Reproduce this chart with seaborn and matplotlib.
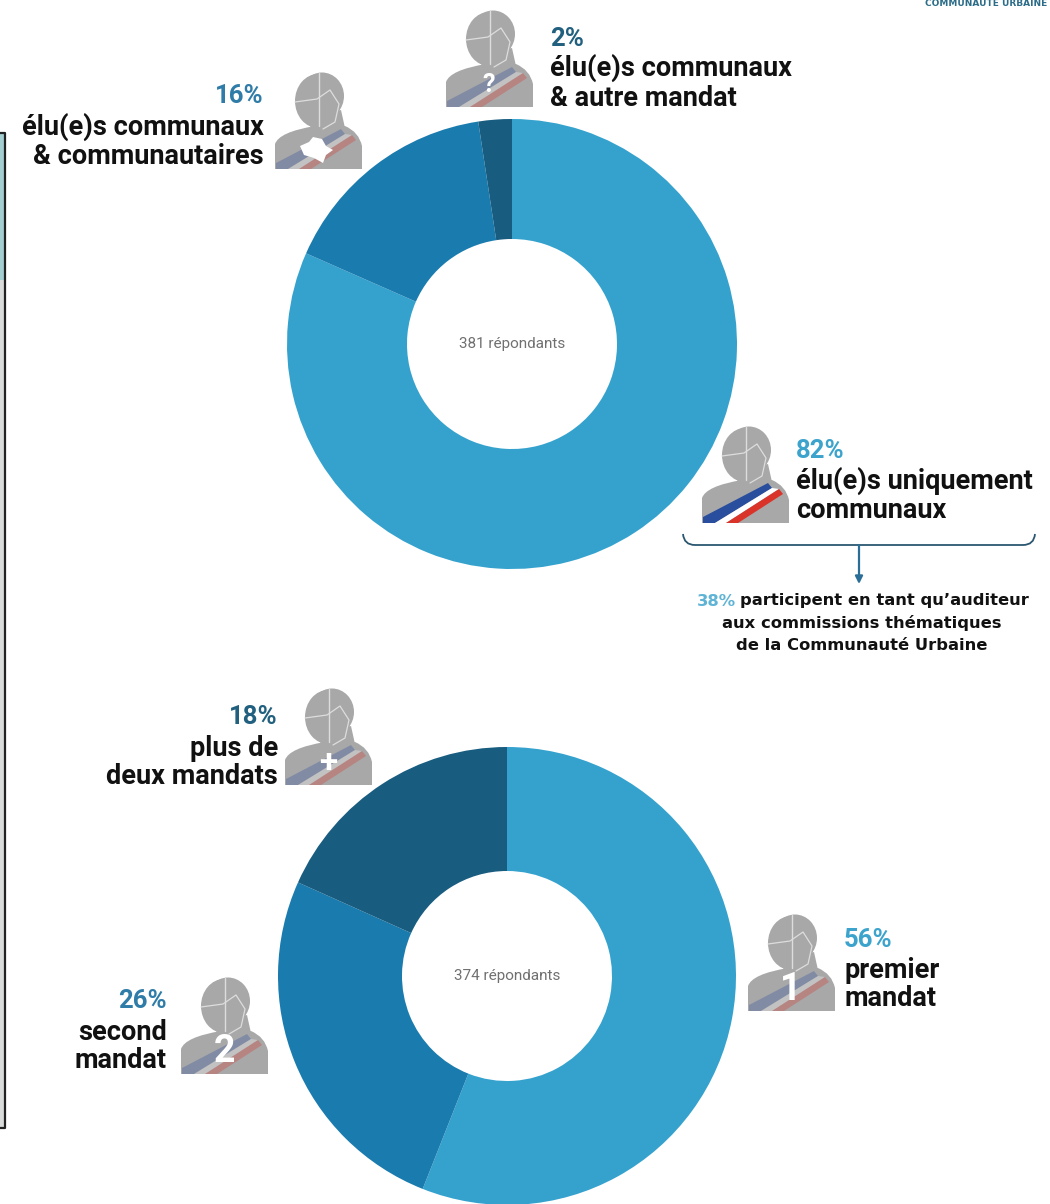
import seaborn as sns
import matplotlib.pyplot as plt
from matplotlib.patches import Ellipse, Polygon, PathPatch, Rectangle
from matplotlib.path import Path

# donnees
parts_mandats = [81.6, 16.0, 2.4]
labels_mandats = ['82%', '16%', '2%']
total_mandats = '381 répondants'

parts_nombre = [56, 25.7, 18.3]
labels_nombre = ['56%', '26%', '18%']
total_nombre = '374 répondants'

couleurs = sns.color_palette(['#35A2CE', '#1A7BAE', '#185C80'])
BLEU_CLAIR = '#3CA3CC'
BLEU_MOYEN = '#2F7CA8'
BLEU_FONCE = '#22607F'
NOIR = '#111111'
GRIS = '#A8A8A8'

sns.set_theme(style='white')
plt.rcParams['font.family'] = ['Roboto', 'DejaVu Sans']

W, H = 1050, 1204
fig = plt.figure(figsize=(W / 100, H / 100), dpi=100, facecolor='white')

# calque en pixels pour les textes et pictos
bg = fig.add_axes([0, 0, 1, 1])
bg.set_xlim(0, W)
bg.set_ylim(H, 0)
bg.axis('off')


def donut(valeurs, cx, cy, r_ext, r_int, total):
    ax = fig.add_axes([(cx - r_ext) / W, 1 - (cy + r_ext) / H, 2 * r_ext / W, 2 * r_ext / H])
    ax.pie(valeurs, colors=couleurs, startangle=90, counterclock=False, radius=1,
           wedgeprops={'width': 1 - r_int / r_ext, 'linewidth': 0})
    ax.set_xlim(-1, 1)
    ax.set_ylim(-1, 1)
    ax.text(0, 0, total, ha='center', va='center', fontsize=11, color='#707070')


def picto(x, y, symbole=None, alpha=0.3, taille=27):
    # silhouette d'elu : x, y = coin haut gauche, 87 x 97 px
    bg.add_patch(Ellipse((x + 43, y + 29), 46, 54, color=GRIS, lw=0, zorder=3))
    bg.add_patch(Ellipse((x + 47, y + 24), 44, 47, color=GRIS, lw=0, zorder=3))
    bg.add_patch(Polygon([(x + 30, y + 48), (x + 66, y + 38), (x + 70, y + 56), (x + 40, y + 60)],
                         color=GRIS, lw=0, zorder=3))
    verts = [(x, y + 97), (x, y + 72), (x + 4, y + 60), (x + 40, y + 54), (x + 70, y + 54),
             (x + 84, y + 60), (x + 87, y + 74), (x + 87, y + 97), (x, y + 97)]
    codes = [Path.MOVETO, Path.LINETO, Path.CURVE3, Path.CURVE3, Path.LINETO,
             Path.CURVE3, Path.CURVE3, Path.LINETO, Path.CLOSEPOLY]
    bg.add_patch(PathPatch(Path(verts, codes), facecolor=GRIS, edgecolor='none', zorder=3))
    # echarpe
    bg.add_patch(Polygon([(x + 1, y + 97), (x + 1, y + 91), (x + 66, y + 57), (x + 70, y + 62), (x + 13, y + 97)],
                         color='#2A4E9E', alpha=alpha, lw=0, zorder=4))
    bg.add_patch(Polygon([(x + 13, y + 97), (x + 70, y + 62), (x + 77, y + 63), (x + 24, y + 97)],
                         color='white', alpha=alpha, lw=0, zorder=4))
    bg.add_patch(Polygon([(x + 24, y + 97), (x + 77, y + 63), (x + 81, y + 68), (x + 36, y + 97)],
                         color='#D9332A', alpha=alpha, lw=0, zorder=4))
    # traits blancs du visage
    bg.plot([x + 44, x + 44], [y + 1, y + 54], color='#DDDDDD', lw=1, zorder=5)
    bg.plot([x + 20, x + 42, x + 55, x + 64, x + 60, x + 48],
            [y + 30, y + 27, y + 18, y + 32, y + 50, y + 57], color='#DDDDDD', lw=0.9, zorder=5)
    if symbole:
        bg.text(x + 43, y + 75, symbole, ha='center', va='center', color='white',
                fontsize=taille, fontweight='bold', zorder=6)


def lignes(x, textes, ha='left'):
    pct, ligne1, ligne2 = textes
    bg.text(x, pct[0], pct[1], ha=ha, va='center', color=pct[2], fontsize=18.5, fontweight='bold')
    for y, txt in (ligne1, ligne2):
        bg.text(x, y, txt, ha=ha, va='center', color=NOIR, fontsize=19.5, fontweight='bold')


donut(parts_mandats, 512, 344, 225, 105, total_mandats)
donut(parts_nombre, 507, 976, 229, 105, total_nombre)

# cadre coupe a gauche
bg.add_patch(Rectangle((0, 134), 4, 994, color='#D9DBDB', lw=0))
bg.add_patch(Rectangle((0, 134), 4, 146, color='#A3CFD0', lw=0))
bg.plot([0, 5, 5, 0], [133, 133, 1128, 1128], color='#222222', lw=1.6)

# bout du logo en haut
bg.text(986, 4, 'COMMUNAUTÉ URBAINE', ha='center', va='center', fontsize=6.5, color='#2B6C88',
        fontweight='bold', family=['DejaVu Sans'])

picto(446, 10, '?', taille=18)
picto(275, 72)
bg.add_patch(Polygon([(300, 146), (309, 142), (313, 137), (322, 139), (326, 146), (333, 150),
                      (326, 155), (323, 163), (314, 158), (304, 155)], color='white', lw=0, zorder=6))
picto(702, 426, alpha=1)
picto(285, 688, '+', taille=24)
picto(181, 977, '2')
picto(748, 914, '1')

lignes(550, [(39, labels_mandats[2], BLEU_FONCE), (68, 'élu(e)s communaux'), (98, '& autre mandat')])
lignes(264, [(96, labels_mandats[1], BLEU_MOYEN), (127, 'élu(e)s communaux'), (156, '& communautaires')], ha='right')
lignes(796, [(451, labels_mandats[0], BLEU_CLAIR), (481, 'élu(e)s uniquement'), (510, 'communaux')])
lignes(278, [(717, labels_nombre[2], BLEU_FONCE), (748, 'plus de'), (776, 'deux mandats')], ha='right')
lignes(167, [(1001, labels_nombre[1], BLEU_MOYEN), (1032, 'second'), (1061, 'mandat')], ha='right')
lignes(844, [(940, labels_nombre[0], BLEU_CLAIR), (970, 'premier'), (999, 'mandat')])

# accolade et fleche
verts = [(683, 534), (684, 545), (695, 545), (1023, 545), (1034, 545), (1035, 534)]
codes = [Path.MOVETO, Path.CURVE3, Path.CURVE3, Path.LINETO, Path.CURVE3, Path.CURVE3]
bg.add_patch(PathPatch(Path(verts, codes), facecolor='none', edgecolor='#2B5770', lw=1.3))
bg.annotate('', xy=(859, 584), xytext=(859, 545),
            arrowprops={'arrowstyle': '-|>', 'color': '#2B6E98', 'lw': 1.6, 'mutation_scale': 11,
                        'shrinkA': 0, 'shrinkB': 0})

petit = {'fontsize': 11.8, 'fontweight': 'bold', 'family': ['DejaVu Sans'], 'va': 'center'}
bg.text(697, 601, '38%', ha='left', color='#5FB4D6', **petit)
bg.text(1029, 601, 'participent en tant qu’auditeur', ha='right', color=NOIR, **petit)
bg.text(862, 623, 'aux commissions thématiques', ha='center', color=NOIR, **petit)
bg.text(862, 645, 'de la Communauté Urbaine', ha='center', color=NOIR, **petit)

plt.savefig('out.png', dpi=100)
